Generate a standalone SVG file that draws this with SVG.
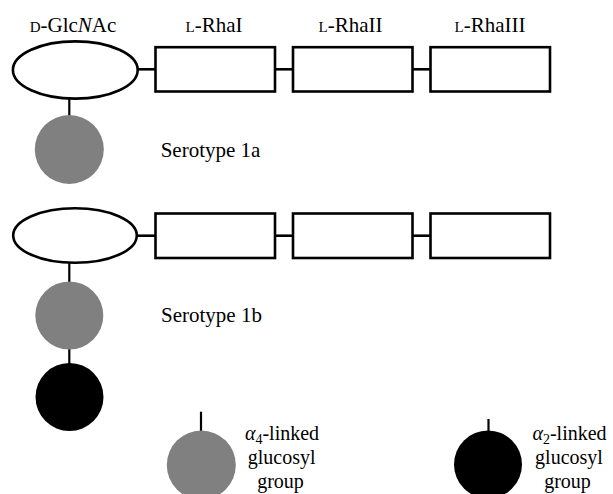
<svg xmlns="http://www.w3.org/2000/svg" width="613" height="494" viewBox="0 0 613 494">
<style>
.sugar{fill:#fff;stroke:#000;stroke-width:2.6}
.grey{fill:#808080}
.black{fill:#000}
.link{stroke:#000;stroke-width:2.6;fill:none}
.vlink{stroke:#000;stroke-width:2.2;fill:none}
text{font-family:"Liberation Serif","Times New Roman",serif;font-size:21px;fill:#000}
.sc{font-size:15px}
.lbl{text-anchor:middle}
.leg{font-size:20px}
</style>
<rect width="613" height="494" fill="#fff"/>
<g id="connectors">
<line class="link" x1="137" y1="69.3" x2="155.5" y2="69.3"/>
<line class="link" x1="275" y1="69.3" x2="293" y2="69.3"/>
<line class="link" x1="412.5" y1="69.3" x2="430.5" y2="69.3"/>
<line class="vlink" x1="69.3" y1="98" x2="69.3" y2="116"/>
<line class="link" x1="136" y1="235.7" x2="155.5" y2="235.7"/>
<line class="link" x1="275" y1="235.7" x2="293" y2="235.7"/>
<line class="link" x1="412.5" y1="235.7" x2="430.5" y2="235.7"/>
<line class="vlink" x1="69.3" y1="262" x2="69.3" y2="282"/>
<line class="vlink" x1="69.3" y1="349" x2="69.3" y2="364"/>
<line class="vlink" x1="201" y1="411.7" x2="201" y2="431"/>
<line class="vlink" x1="488.5" y1="419" x2="488.5" y2="431"/>
</g>
<g id="labels">
<text class="lbl" x="73" y="31.7"><tspan class="sc">D</tspan>-Glc<tspan font-style="italic">N</tspan>Ac</text>
<text class="lbl" x="214" y="31.7"><tspan class="sc">L</tspan>-RhaI</text>
<text class="lbl" x="350.5" y="31.7"><tspan class="sc">L</tspan>-RhaII</text>
<text class="lbl" x="490" y="31.7"><tspan class="sc">L</tspan>-RhaIII</text>
</g>
<g id="s1a-glcnac"><ellipse class="sugar" cx="75.3" cy="70" rx="62.4" ry="28.6"/></g>
<g id="s1a-rha1"><rect class="sugar" x="155.5" y="47.2" width="119.5" height="44.3"/></g>
<g id="s1a-rha2"><rect class="sugar" x="293" y="47.2" width="119.5" height="44.3"/></g>
<g id="s1a-rha3"><rect class="sugar" x="430.5" y="47.2" width="119.5" height="44.3"/></g>
<g id="s1a-glc4"><circle class="grey" cx="69.3" cy="149.5" r="34.5"/></g>
<g id="s1a-label"><text x="160.7" y="156.7">Serotype 1a</text></g>
<g id="s1b-glcnac"><ellipse class="sugar" cx="75" cy="235.5" rx="61.8" ry="27.3"/></g>
<g id="s1b-rha1"><rect class="sugar" x="155.5" y="213.5" width="119.5" height="44.5"/></g>
<g id="s1b-rha2"><rect class="sugar" x="293" y="213.5" width="119.5" height="44.5"/></g>
<g id="s1b-rha3"><rect class="sugar" x="430.5" y="213.5" width="119.5" height="44.5"/></g>
<g id="s1b-glc4"><circle class="grey" cx="69.3" cy="315.5" r="34"/></g>
<g id="s1b-glc2"><circle class="black" cx="69.5" cy="397" r="34"/></g>
<g id="s1b-label"><text x="161" y="321.7">Serotype 1b</text></g>
<g id="legend-a4">
<circle class="grey" cx="201.3" cy="465" r="34.5"/>
<text class="lbl leg" x="282" y="440"><tspan font-style="italic">α</tspan><tspan font-size="14" dy="4">4</tspan><tspan dy="-4">-linked</tspan></text>
<text class="lbl leg" x="281.7" y="464">glucosyl</text>
<text class="lbl leg" x="280.5" y="487.5">group</text>
</g>
<g id="legend-a2">
<circle class="black" cx="488" cy="464.5" r="34"/>
<text class="lbl leg" x="569.5" y="440"><tspan font-style="italic">α</tspan><tspan font-size="14" dy="4">2</tspan><tspan dy="-4">-linked</tspan></text>
<text class="lbl leg" x="569" y="464">glucosyl</text>
<text class="lbl leg" x="567.5" y="487.5">group</text>
</g>
</svg>
